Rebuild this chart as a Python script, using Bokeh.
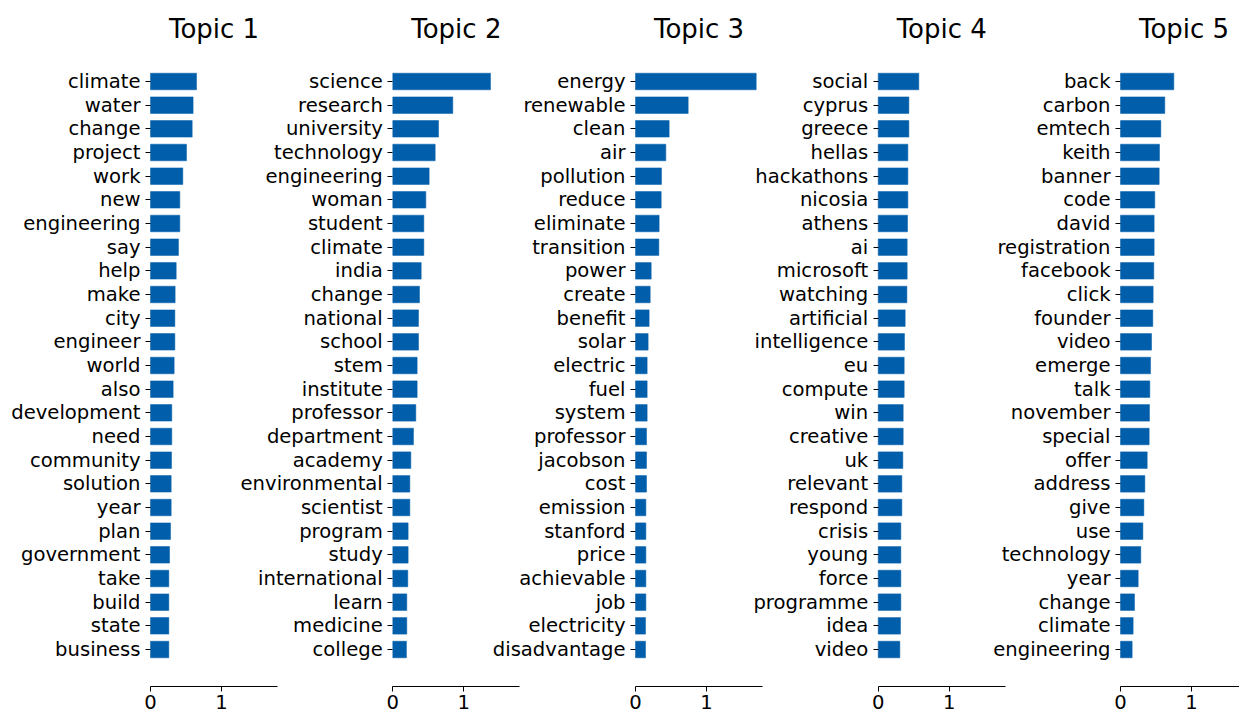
from bokeh.plotting import figure
from bokeh.models import Range1d, LinearAxis, FixedTicker, Label
from bokeh.embed import file_html
from bokeh.resources import INLINE

# ---------------- data ----------------
topic_titles = ["Topic 1", "Topic 2", "Topic 3", "Topic 4", "Topic 5"]

words_1 = ["climate", "water", "change", "project", "work", "new", "engineering", "say",
           "help", "make", "city", "engineer", "world", "also", "development", "need",
           "community", "solution", "year", "plan", "government", "take", "build", "state",
           "business"]
values_1 = [0.648, 0.600, 0.587, 0.507, 0.455, 0.413, 0.413, 0.394, 0.362, 0.347, 0.343,
            0.343, 0.333, 0.319, 0.300, 0.300, 0.296, 0.291, 0.291, 0.282, 0.268, 0.258,
            0.258, 0.258, 0.258]

words_2 = ["science", "research", "university", "technology", "engineering", "woman",
           "student", "climate", "india", "change", "national", "school", "stem",
           "institute", "professor", "department", "academy", "environmental", "scientist",
           "program", "study", "international", "learn", "medicine", "college"]
values_2 = [1.376, 0.845, 0.644, 0.597, 0.512, 0.465, 0.437, 0.437, 0.400, 0.376, 0.362,
            0.362, 0.343, 0.343, 0.324, 0.291, 0.254, 0.240, 0.240, 0.216, 0.216, 0.211,
            0.197, 0.197, 0.192]

words_3 = ["energy", "renewable", "clean", "air", "pollution", "reduce", "eliminate",
           "transition", "power", "create", "benefit", "solar", "electric", "fuel", "system",
           "professor", "jacobson", "cost", "emission", "stanford", "price", "achievable",
           "job", "electricity", "disadvantage"]
values_3 = [1.700, 0.742, 0.474, 0.427, 0.366, 0.362, 0.333, 0.329, 0.221, 0.207, 0.192,
            0.178, 0.164, 0.164, 0.164, 0.155, 0.155, 0.155, 0.146, 0.146, 0.146, 0.146,
            0.146, 0.141, 0.141]

words_4 = ["social", "cyprus", "greece", "hellas", "hackathons", "nicosia", "athens", "ai",
           "microsoft", "watching", "artificial", "intelligence", "eu", "compute", "win",
           "creative", "uk", "relevant", "respond", "crisis", "young", "force", "programme",
           "idea", "video"]
values_4 = [0.572, 0.432, 0.432, 0.418, 0.418, 0.418, 0.413, 0.408, 0.408, 0.404, 0.380,
            0.370, 0.366, 0.366, 0.352, 0.352, 0.347, 0.333, 0.333, 0.319, 0.319, 0.319,
            0.319, 0.314, 0.305]

words_5 = ["back", "carbon", "emtech", "keith", "banner", "code", "david", "registration",
           "facebook", "click", "founder", "video", "emerge", "talk", "november", "special",
           "offer", "address", "give", "use", "technology", "year", "change", "climate",
           "engineering"]
values_5 = [0.751, 0.624, 0.568, 0.549, 0.545, 0.483, 0.474, 0.474, 0.469, 0.460, 0.455,
            0.437, 0.423, 0.413, 0.408, 0.404, 0.376, 0.343, 0.329, 0.315, 0.286, 0.249,
            0.197, 0.178, 0.164]

x_ticks = [0, 1]

topics = [(words_1, values_1), (words_2, values_2), (words_3, values_3),
          (words_4, values_4), (words_5, values_5)]

# ---------------- layout ----------------
W, H = 1239, 712
PX_PER_UNIT = 71.0
ROW_PX = 23.667
ORIGINS = [150.0, 392.3, 635.0, 877.7, 1120.0]   # pixel of value 0 for each panel
FIRST_ROW = 81.0                                  # pixel of the first row centre
AXIS_PX = 686.0                                   # pixel of the bottom axis line
TITLE_PX = 28.0
X_MAX = 1.79
BAR_COLOR = "#005eaa"
FONT = "DejaVu Sans"

def row_of(px):
    return (px - FIRST_ROW) / ROW_PX

p = figure(width=W, height=H, output_backend="svg", toolbar_location=None,
           x_axis_location=None, y_axis_location=None,
           x_range=Range1d(0, 1), y_range=Range1d(row_of(H), row_of(0)),
           min_border=0, outline_line_color=None,
           background_fill_color="white", border_fill_color="white")
p.grid.visible = False

for k, (words, values) in enumerate(topics):
    name = f"t{k}"
    x0 = ORIGINS[k]
    p.extra_x_ranges[name] = Range1d(-x0 / PX_PER_UNIT, (W - x0) / PX_PER_UNIT)
    idx = list(range(len(words)))

    p.hbar(y=idx, left=0, right=values, height=0.7, x_range_name=name,
           fill_color=BAR_COLOR, line_color=BAR_COLOR, line_width=0.5)

    yax = LinearAxis(x_range_name=name, fixed_location=0,
                     ticker=FixedTicker(ticks=idx),
                     major_label_overrides={i: w for i, w in zip(idx, words)})
    yax.axis_line_color = None
    yax.major_tick_out = 5
    yax.major_tick_in = 0
    yax.major_tick_line_color = "black"
    yax.minor_tick_line_color = None
    yax.major_label_standoff = 5
    yax.major_label_text_font = FONT
    yax.major_label_text_font_size = "19.6px"
    yax.major_label_text_color = "black"
    p.add_layout(yax, "left")

    xax = LinearAxis(x_range_name=name, fixed_location=row_of(AXIS_PX),
                     ticker=FixedTicker(ticks=x_ticks), bounds=(0, X_MAX))
    xax.axis_line_color = "black"
    xax.axis_line_width = 1.1
    xax.major_tick_out = 5
    xax.major_tick_in = 0
    xax.major_tick_line_color = "black"
    xax.minor_tick_line_color = None
    xax.major_label_standoff = 3
    xax.major_label_text_font = FONT
    xax.major_label_text_font_size = "19.6px"
    xax.major_label_text_color = "black"
    p.add_layout(xax, "below")

    p.add_layout(Label(x=X_MAX / 2, y=row_of(TITLE_PX), x_range_name=name,
                       text=topic_titles[k], text_align="center", text_baseline="middle",
                       text_font=FONT, text_font_size="26px", text_color="black"))

open("out.html", "w").write(file_html(p, INLINE))
